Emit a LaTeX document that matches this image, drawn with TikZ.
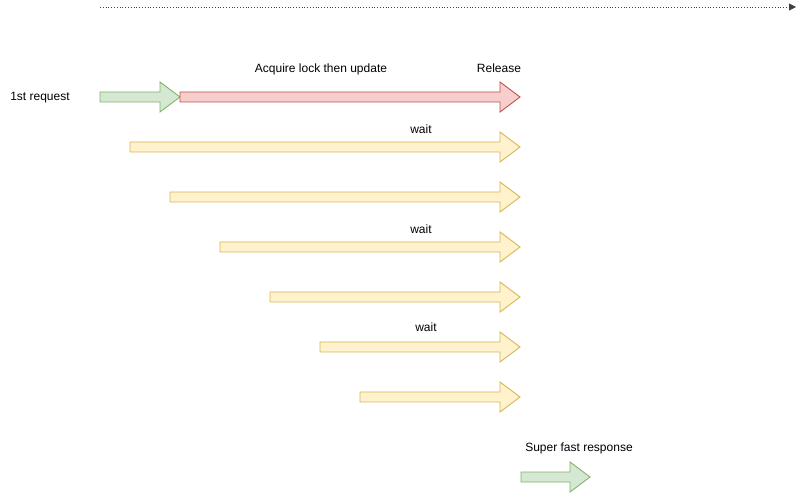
\documentclass[tikz,border=0pt]{standalone}
\usepackage{fontspec}
\setmainfont{Liberation Sans}
\usetikzlibrary{arrows.meta}
\definecolor{gfill}{HTML}{D5E8D4}\definecolor{gline}{HTML}{82B366}
\definecolor{rfill}{HTML}{F8CECC}\definecolor{rline}{HTML}{B85450}
\definecolor{yfill}{HTML}{FFF2CC}\definecolor{yline}{HTML}{D6B656}
\tikzset{
  lbl/.style={inner sep=0pt, font=\fontsize{12}{14}\selectfont},
  greenarrow/.style={fill=gfill, draw=gline, line width=0.9pt, line join=miter},
  redarrow/.style={fill=rfill, draw=rline, line width=0.9pt, line join=miter},
  yellowarrow/.style={fill=yfill, draw=yline, line width=0.9pt, line join=miter},
  timeline/.style={dotted, line width=0.8pt, draw=black!75, -{Triangle[length=7pt,width=7pt]}}
}
% #1 style, #2 x start, #3 x end, #4 y
\newcommand{\flexarrow}[4]{%
  \draw[#1] (#2,#4-5) -- (#3-20,#4-5) -- (#3-20,#4-15) -- (#3,#4) -- (#3-20,#4+15)
    -- (#3-20,#4+5) -- (#2,#4+5) -- cycle;}
\begin{document}
\begin{tikzpicture}[x=1pt,y=-1pt]
\useasboundingbox (0,0) rectangle (809,494);
\coordinate (tstart) at (100,7);
\coordinate (tend) at (796,7);
\draw[timeline] (tstart) -- (tend);

\flexarrow{greenarrow}{100}{180}{97}
\flexarrow{redarrow}{180}{520}{97}
\flexarrow{yellowarrow}{130}{520}{147}
\flexarrow{yellowarrow}{170}{520}{197}
\flexarrow{yellowarrow}{220}{520}{247}
\flexarrow{yellowarrow}{270}{520}{297}
\flexarrow{yellowarrow}{320}{520}{347}
\flexarrow{yellowarrow}{360}{520}{397}
\flexarrow{greenarrow}{521}{590}{477}

\node[lbl] (first) at (40,98) {1st request};
\node[lbl] (acq) at (321,69) {Acquire lock then update};
\node[lbl] (rel) at (499,68) {Release};
\node[lbl] (w1) at (421,129) {wait};
\node[lbl] (w2) at (421,229) {wait};
\node[lbl] (w3) at (426,327) {wait};
\node[lbl] (fast) at (579,448) {Super fast response};
\end{tikzpicture}
\end{document}
